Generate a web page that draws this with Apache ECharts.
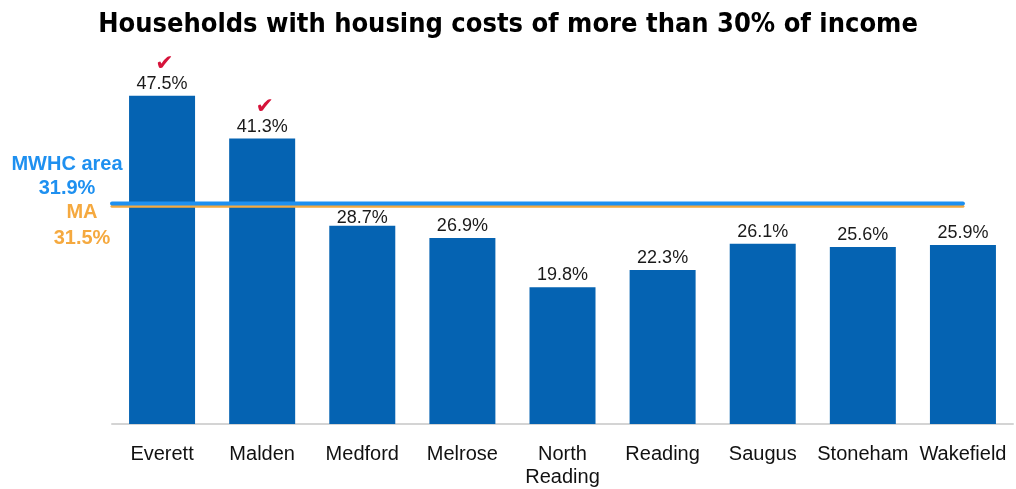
<!DOCTYPE html>
<html>
<head>
<meta charset="utf-8">
<script src="https://cdn.jsdelivr.net/npm/echarts@6/dist/echarts.min.js"></script>
<style>
  html, body { margin: 0; padding: 0; background: #ffffff; }
  #chart { width: 1016px; height: 489px; }
</style>
</head>
<body>
<div id="chart"></div>
<script>
// Share of households paying more than 30% of income on housing, by community
const towns = ['Everett', 'Malden', 'Medford', 'Melrose', 'North\nReading', 'Reading', 'Saugus', 'Stoneham', 'Wakefield'];
const costBurdenPct = [47.5, 41.3, 28.7, 26.9, 19.8, 22.3, 26.1, 25.6, 25.9];
// Towns flagged with a check mark
const flagged = ['Everett', 'Malden'];
// Reference levels
const mwhcAreaPct = 31.9;
const maPct = 31.5;
// Reference lines run from the left edge of the plot to the last category
const refLineSpan = [-0.5, 8];

const barBlue = '#0563B2';
const lineBlue = '#1E90F0';
const lineOrange = '#F5A93F';
const checkRed = '#D6133A';

const chart = echarts.init(document.getElementById('chart'));

// A value label sits roughly 2 points above its bar; labels that would land on
// the reference lines are tucked a little lower so the lines stay clear.
const refMid = (mwhcAreaPct + maPct) / 2;
const barData = costBurdenPct.map((v, i) => {
  const isFlagged = flagged.includes(towns[i]);
  const crowdsLine = Math.abs(v + 1.9 - refMid) < 1.5;
  return {
    value: v,
    label: {
      formatter: isFlagged ? '{c|✔}\n{v|' + v.toFixed(1) + '%}' : '{v|' + v.toFixed(1) + '%}',
      offset: crowdsLine ? [0, 4] : [0, 0]
    }
  };
});

chart.setOption({
  animation: false,
  title: {
    text: 'Households with housing costs of more than 30% of income',
    left: 'center',
    top: 6,
    textStyle: {
      fontFamily: '"Liberation Sans Narrow", "DejaVu Sans Condensed", "Liberation Sans"',
      fontWeight: 'bold',
      fontSize: 27,
      color: '#000000'
    }
  },
  grid: { left: 112, right: 3, top: 78.5, bottom: 64 },
  xAxis: [
    {
      type: 'category',
      data: towns,
      axisTick: { show: false },
      axisLine: { lineStyle: { color: '#d4d4d4', width: 2 } },
      axisLabel: {
        interval: 0,
        margin: 19,
        fontFamily: 'Liberation Sans',
        fontSize: 20,
        color: '#111111',
        lineHeight: 23
      }
    },
    {
      type: 'value',
      min: -0.5,
      max: towns.length - 0.5,
      show: false
    }
  ],
  yAxis: {
    type: 'value',
    min: 0,
    max: 50,
    show: false
  },
  series: [
    {
      type: 'bar',
      data: barData,
      barWidth: 66,
      itemStyle: { color: barBlue },
      label: {
        show: true,
        position: 'top',
        distance: 2,
        rich: {
          v: { fontFamily: 'Liberation Sans', fontSize: 18, color: '#1a1a1a', lineHeight: 20 },
          c: { fontFamily: 'DejaVu Sans', fontSize: 22, color: checkRed, lineHeight: 18, padding: [0, 0, 0, 5] }
        }
      },
      z: 2
    },
    {
      type: 'line',
      xAxisIndex: 1,
      data: [[refLineSpan[0], maPct], [refLineSpan[1], maPct]],
      symbol: 'none',
      lineStyle: { color: lineOrange, width: 3, cap: 'round' },
      z: 3
    },
    {
      type: 'line',
      xAxisIndex: 1,
      data: [[refLineSpan[0], mwhcAreaPct], [refLineSpan[1], mwhcAreaPct]],
      symbol: 'none',
      lineStyle: { color: lineBlue, width: 4, cap: 'round' },
      z: 4
    }
  ],
  graphic: [
    {
      type: 'text',
      x: 67,
      y: 176,
      style: {
        text: 'MWHC area\n' + mwhcAreaPct.toFixed(1) + '%',
        fill: lineBlue,
        font: 'bold 20px "Liberation Sans"',
        textAlign: 'center',
        textVerticalAlign: 'middle',
        lineHeight: 24
      }
    },
    {
      type: 'text',
      x: 82,
      y: 225,
      style: {
        text: 'MA\n' + maPct.toFixed(1) + '%',
        fill: lineOrange,
        font: 'bold 20px "Liberation Sans"',
        textAlign: 'center',
        textVerticalAlign: 'middle',
        lineHeight: 26
      }
    }
  ]
});
</script>
</body>
</html>
